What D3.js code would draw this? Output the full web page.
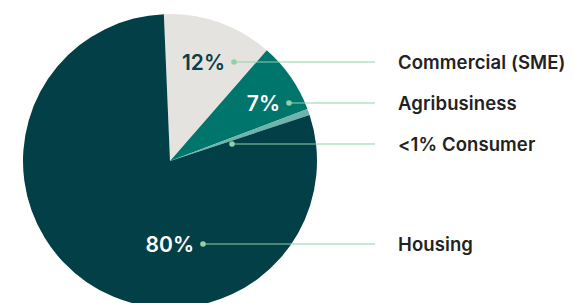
<!DOCTYPE html>
<html>
<head>
<meta charset="utf-8">
<script src="https://cdn.jsdelivr.net/npm/d3@7"></script>
<style>
  html, body { margin: 0; padding: 0; background: #fff; }
  svg { display: block; }
</style>
</head>
<body>
<div id="chart"></div>
<script>
// slice data, clockwise from the top
const categories = ["Commercial (SME)", "Agribusiness", "<1% Consumer", "Housing"];
const shares = [12.1, 7.8, 0.7, 79.4];
const pctLabels = ["12%", "7%", "", "80%"];
const colors = ["#e5e3df", "#00756c", "#6db3ae", "#033f47"];
const pctColors = ["#0b3f47", "#ffffff", "#ffffff", "#ffffff"];

const width = 573;
const height = 303;
const cx = 170, cy = 161, radius = 147;

// where each callout dot sits, relative to the pie centre
const dotOffsets = [[64, -99], [119, -58], [62, -17], [33, 83]];
const lineEndX = 375;
const labelX = 398;

const svg = d3.select("#chart")
  .append("svg")
    .attr("width", width)
    .attr("height", height)
    .attr("viewBox", [0, 0, width, height]);

const data = categories.map((c, i) => ({ name: c, value: shares[i], i }));

const pie = d3.pie()
  .sort(null)
  .value(d => d.value)
  .startAngle(-2.4 * Math.PI / 180)
  .endAngle(2 * Math.PI - 2.4 * Math.PI / 180);

const arc = d3.arc().innerRadius(0).outerRadius(radius);

const g = svg.append("g").attr("transform", `translate(${cx},${cy})`);

g.selectAll("path")
  .data(pie(data))
  .join("path")
    .attr("fill", d => colors[d.data.i])
    .attr("d", arc);

// callouts
const callouts = svg.append("g");

data.forEach((d, i) => {
  const [dx, dy] = dotOffsets[i];
  const x = cx + dx, y = cy + dy;

  callouts.append("line")
    .attr("x1", x).attr("x2", lineEndX)
    .attr("y1", y).attr("y2", y)
    .attr("stroke", "#8fd1a8")
    .attr("stroke-width", 1.2);

  callouts.append("circle")
    .attr("cx", x).attr("cy", y)
    .attr("r", 2.8)
    .attr("fill", "#8fd1a8");

  if (pctLabels[i]) {
    callouts.append("text")
      .attr("x", x - 9)
      .attr("y", y + 7.8)
      .attr("text-anchor", "end")
      .attr("fill", pctColors[i])
      .style("font", "600 21px Inter, sans-serif")
      .text(pctLabels[i]);
  }

  callouts.append("text")
    .attr("x", labelX)
    .attr("y", y + 6.5)
    .attr("fill", "#222222")
    .style("font", "600 18.5px Inter, sans-serif")
    .style("letter-spacing", "0.1px")
    .text(d.name);
});
</script>
</body>
</html>
